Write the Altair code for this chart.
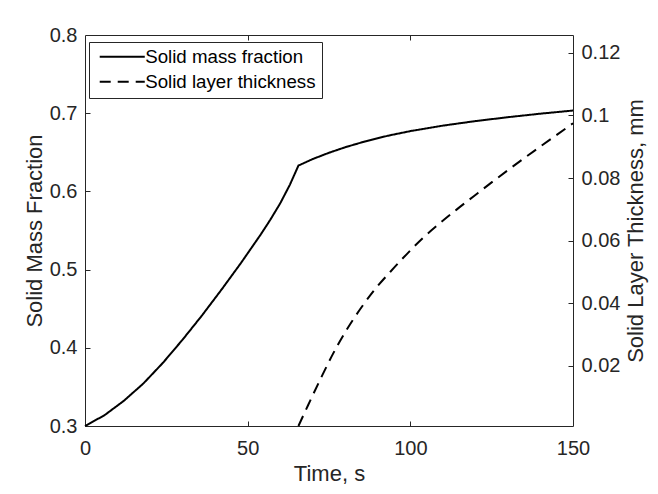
import altair as alt
import pandas as pd

# ---- data ----
time_mass = [0, 6, 12, 18, 24, 30, 36, 42, 48, 54, 57, 60, 63, 65.6,
             70, 75, 80, 86, 93, 100, 110, 120, 130, 140, 150]
mass_fraction = [0.3000, 0.3138, 0.3324, 0.3546, 0.3810, 0.4104, 0.4416,
                 0.4746, 0.5088, 0.5448, 0.5640, 0.5847, 0.6087, 0.6330,
                 0.6414, 0.6494, 0.6565, 0.6638, 0.6711, 0.6771, 0.6841,
                 0.6899, 0.6949, 0.6994, 0.7034]

time_layer = [65.6, 68.6, 72.7, 76.3, 80.4, 84.5, 89, 93.8, 99, 104, 109,
              114.3, 119.5, 124.6, 129.7, 134.8, 140, 145, 150]
layer_thickness = [0.0008, 0.0075, 0.0165, 0.0240, 0.0315, 0.0380, 0.0443,
                   0.0500, 0.0558, 0.0610, 0.0655, 0.0700, 0.0742, 0.0783,
                   0.0823, 0.0862, 0.0901, 0.0938, 0.0975]

series_names = ["Solid mass fraction", "Solid layer thickness"]
x_ticks = [0, 50, 100, 150]
x_inner_ticks = [50, 100]
left_ticks = [0.3, 0.4, 0.5, 0.6, 0.7, 0.8]
left_inner_ticks = [0.4, 0.5, 0.6, 0.7]
right_ticks = [0.02, 0.04, 0.06, 0.08, 0.1, 0.12]

df_mass = pd.DataFrame({"t": time_mass, "v": mass_fraction, "series": series_names[0]})
df_layer = pd.DataFrame({"t": time_layer, "v": layer_thickness, "series": series_names[1]})

FONT = "Liberation Sans"
INK = "#262626"
TICK_FS = 20
TITLE_FS = 22

x_scale = alt.Scale(domain=[0, 150], nice=False, zero=False)
left_scale = alt.Scale(domain=[0.3, 0.8], nice=False, zero=False)
right_scale = alt.Scale(domain=[0.0008, 0.1257], nice=False, zero=False)
dash_scale = alt.Scale(domain=series_names, range=[[1, 0], [11, 7]])


def label_axis(orient, values, fmt, **kw):
    return alt.Axis(orient=orient, values=values, ticks=False, tickSize=0,
                    domain=False, grid=False, labelFlush=False, labelOverlap=False,
                    format=fmt, labelFont=FONT, labelFontSize=TICK_FS,
                    labelColor=INK, titleFont=FONT, titleFontSize=TITLE_FS,
                    titleColor=INK, titleFontWeight="normal", **kw)


def tick_axis(orient, values):
    return alt.Axis(orient=orient, values=values, ticks=True, tickSize=5,
                    tickColor=INK, tickWidth=1, offset=-5, labels=False,
                    domain=False, grid=False, title=None)


legend = alt.Legend(orient="none", legendX=4, legendY=7, title=None,
                    strokeColor=INK, fillColor="white", padding=5.5,
                    labelFont=FONT, labelFontSize=18.7, labelColor="black",
                    labelLimit=400, labelOffset=32, rowPadding=5,
                    symbolType="M-0.9,0H8.9", symbolSize=84.6,
                    symbolStrokeWidth=2, symbolStrokeColor="black",
                    symbolFillColor="transparent")

mass_line = alt.Chart(df_mass).mark_line(color="black", strokeWidth=2).encode(
    x=alt.X("t:Q", scale=x_scale, title="Time, s",
            axis=label_axis("bottom", x_ticks, "d", labelPadding=12, titlePadding=5)),
    y=alt.Y("v:Q", scale=left_scale, title="Solid Mass Fraction",
            axis=label_axis("left", left_ticks, "~r", labelPadding=8, titlePadding=3)),
    strokeDash=alt.StrokeDash("series:N", scale=dash_scale, legend=legend),
)

layer_line = alt.Chart(df_layer).mark_line(
    color="black", strokeWidth=2, interpolate="monotone").encode(
    x=alt.X("t:Q", scale=x_scale, axis=None),
    y=alt.Y("v:Q", scale=right_scale, title="Solid Layer Thickness, mm",
            axis=label_axis("right", right_ticks, "~r", labelPadding=8, titlePadding=6,
                            titleAngle=270, titleBaseline="top")),
    strokeDash=alt.StrokeDash("series:N", scale=dash_scale, legend=legend),
)

mass_ticks = alt.Chart(df_mass).mark_line(strokeOpacity=0).encode(
    x=alt.X("t:Q", scale=x_scale, axis=tick_axis("bottom", x_inner_ticks)),
    y=alt.Y("v:Q", scale=left_scale, axis=tick_axis("left", left_inner_ticks)),
)

layer_ticks = alt.Chart(df_layer).mark_line(strokeOpacity=0).encode(
    x=alt.X("t:Q", scale=x_scale, axis=tick_axis("top", x_inner_ticks)),
    y=alt.Y("v:Q", scale=right_scale, axis=tick_axis("right", right_ticks)),
)

chart = (
    alt.layer(mass_line, layer_line, mass_ticks, layer_ticks)
    .resolve_scale(y="independent", x="shared", strokeDash="shared")
    .resolve_axis(x="independent", y="independent")
    .properties(
        width=488, height=391,
        autosize=alt.AutoSizeParams(type="none"),
        padding={"left": 77, "top": 27, "right": 77, "bottom": 58},
        background="white",
    )
    .configure_view(stroke=INK, strokeWidth=1)
)

chart.save("out.html", embed_options={"renderer": "svg", "actions": False})
